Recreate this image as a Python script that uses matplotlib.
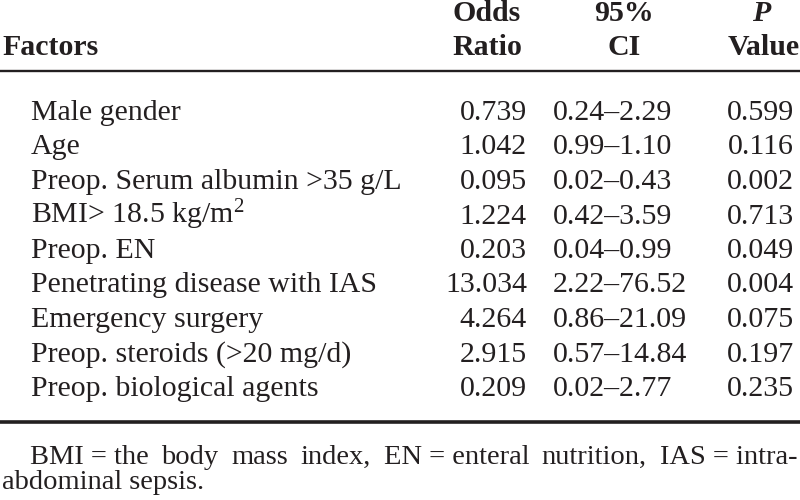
import matplotlib
matplotlib.use("Agg")
import matplotlib.pyplot as plt

# ---- data ----
factors = [
    "Male gender",
    "Age",
    "Preop. Serum albumin >35 g/L",
    "BMI> 18.5 kg/m$^{2}$",
    "Preop. EN",
    "Penetrating disease with IAS",
    "Emergency surgery",
    "Preop. steroids (>20 mg/d)",
    "Preop. biological agents",
]
odds_ratio = [0.739, 1.042, 0.095, 1.224, 0.203, 13.034, 4.264, 2.915, 0.209]
ci_low = [0.24, 0.99, 0.02, 0.42, 0.04, 2.22, 0.86, 0.57, 0.02]
ci_high = [2.29, 1.10, 0.43, 3.59, 0.99, 76.52, 21.09, 14.84, 2.77]
p_values = [0.599, 0.116, 0.002, 0.713, 0.049, 0.004, 0.075, 0.197, 0.235]
footnote_line1 = ["BMI = the", "body", "mass", "index,", "EN = enteral",
                  "nutrition,", "IAS = intra-"]
footnote_line2 = "abdominal sepsis."

plt.rcParams["font.family"] = ["Liberation Serif", "DejaVu Serif"]
plt.rcParams["mathtext.fontset"] = "custom"
plt.rcParams["mathtext.rm"] = "Liberation Serif"
plt.rcParams["mathtext.it"] = "Liberation Serif:italic"
plt.rcParams["mathtext.bf"] = "Liberation Serif:bold"

TXT = "#231f20"
FS = 21.5
FS_NOTE = 20.5

fig = plt.figure(figsize=(8, 5), dpi=100)
ax = fig.add_axes([0, 0, 1, 1])
ax.set_xlim(0, 800)
ax.set_ylim(500, 0)
ax.axis("off")

# column anchors (pixels)
X_FACT_HDR = 2
X_FACT = 31
X_OR_R = 527
X_OR_C = 487
X_CI_L = 553
X_CI_C = 624
X_P_R = 794
X_P_C = 764

# header
hb1, hb2 = 21, 55
ax.text(X_FACT_HDR, hb2, "Factors", fontsize=FS, fontweight="bold", color=TXT,
        ha="left", va="baseline")
ax.text(X_OR_C, hb1, "Odds", fontsize=FS, fontweight="bold", color=TXT, ha="center", va="baseline")
ax.text(X_OR_C, hb2, "Ratio", fontsize=FS, fontweight="bold", color=TXT, ha="center", va="baseline")
ax.text(X_CI_C, hb1, "95%", fontsize=FS, fontweight="bold", color=TXT, ha="center", va="baseline")
ax.text(X_CI_C, hb2, "CI", fontsize=FS, fontweight="bold", color=TXT, ha="center", va="baseline")
ax.text(X_P_C - 3, hb1, "P", fontsize=FS, fontweight="bold", fontstyle="italic", color=TXT,
        ha="center", va="baseline")
ax.text(X_P_C, hb2, "Value", fontsize=FS, fontweight="bold", color=TXT, ha="center", va="baseline")

# rules
ax.plot([0, 800], [71, 71], color=TXT, lw=1.7, solid_capstyle="butt")
ax.plot([0, 800], [422, 422], color=TXT, lw=2.6, solid_capstyle="butt")

# body rows
base0, step = 120, 34.5
for i, (f, o, lo, hi, p) in enumerate(zip(factors, odds_ratio, ci_low, ci_high, p_values)):
    y = base0 + step * i
    ax.text(X_FACT, y, f, fontsize=FS, color=TXT, ha="left", va="baseline")
    ax.text(X_OR_R, y, f"{o:.3f}", fontsize=FS, color=TXT, ha="right", va="baseline")
    ax.text(X_CI_L, y, f"{lo:.2f}\u2013{hi:.2f}", fontsize=FS, color=TXT, ha="left", va="baseline")
    ax.text(X_P_R, y, f"{p:.3f}", fontsize=FS, color=TXT, ha="right", va="baseline")

# footnote, line 1 justified between x0 and x1
fy1, fy2 = 464, 489
x0, x1 = 30, 797
words = [ax.text(0, fy1, w, fontsize=FS_NOTE, color=TXT, ha="left", va="baseline")
         for w in footnote_line1]
fig.canvas.draw()
r = fig.canvas.get_renderer()
widths = [t.get_window_extent(r).width for t in words]
gap = (x1 - x0 - sum(widths)) / (len(words) - 1)
x = x0
for t, w in zip(words, widths):
    t.set_x(x)
    x += w + gap
ax.text(2, fy2, footnote_line2, fontsize=FS_NOTE, color=TXT, ha="left", va="baseline")

fig.savefig("out.png", dpi=100, facecolor="white")
